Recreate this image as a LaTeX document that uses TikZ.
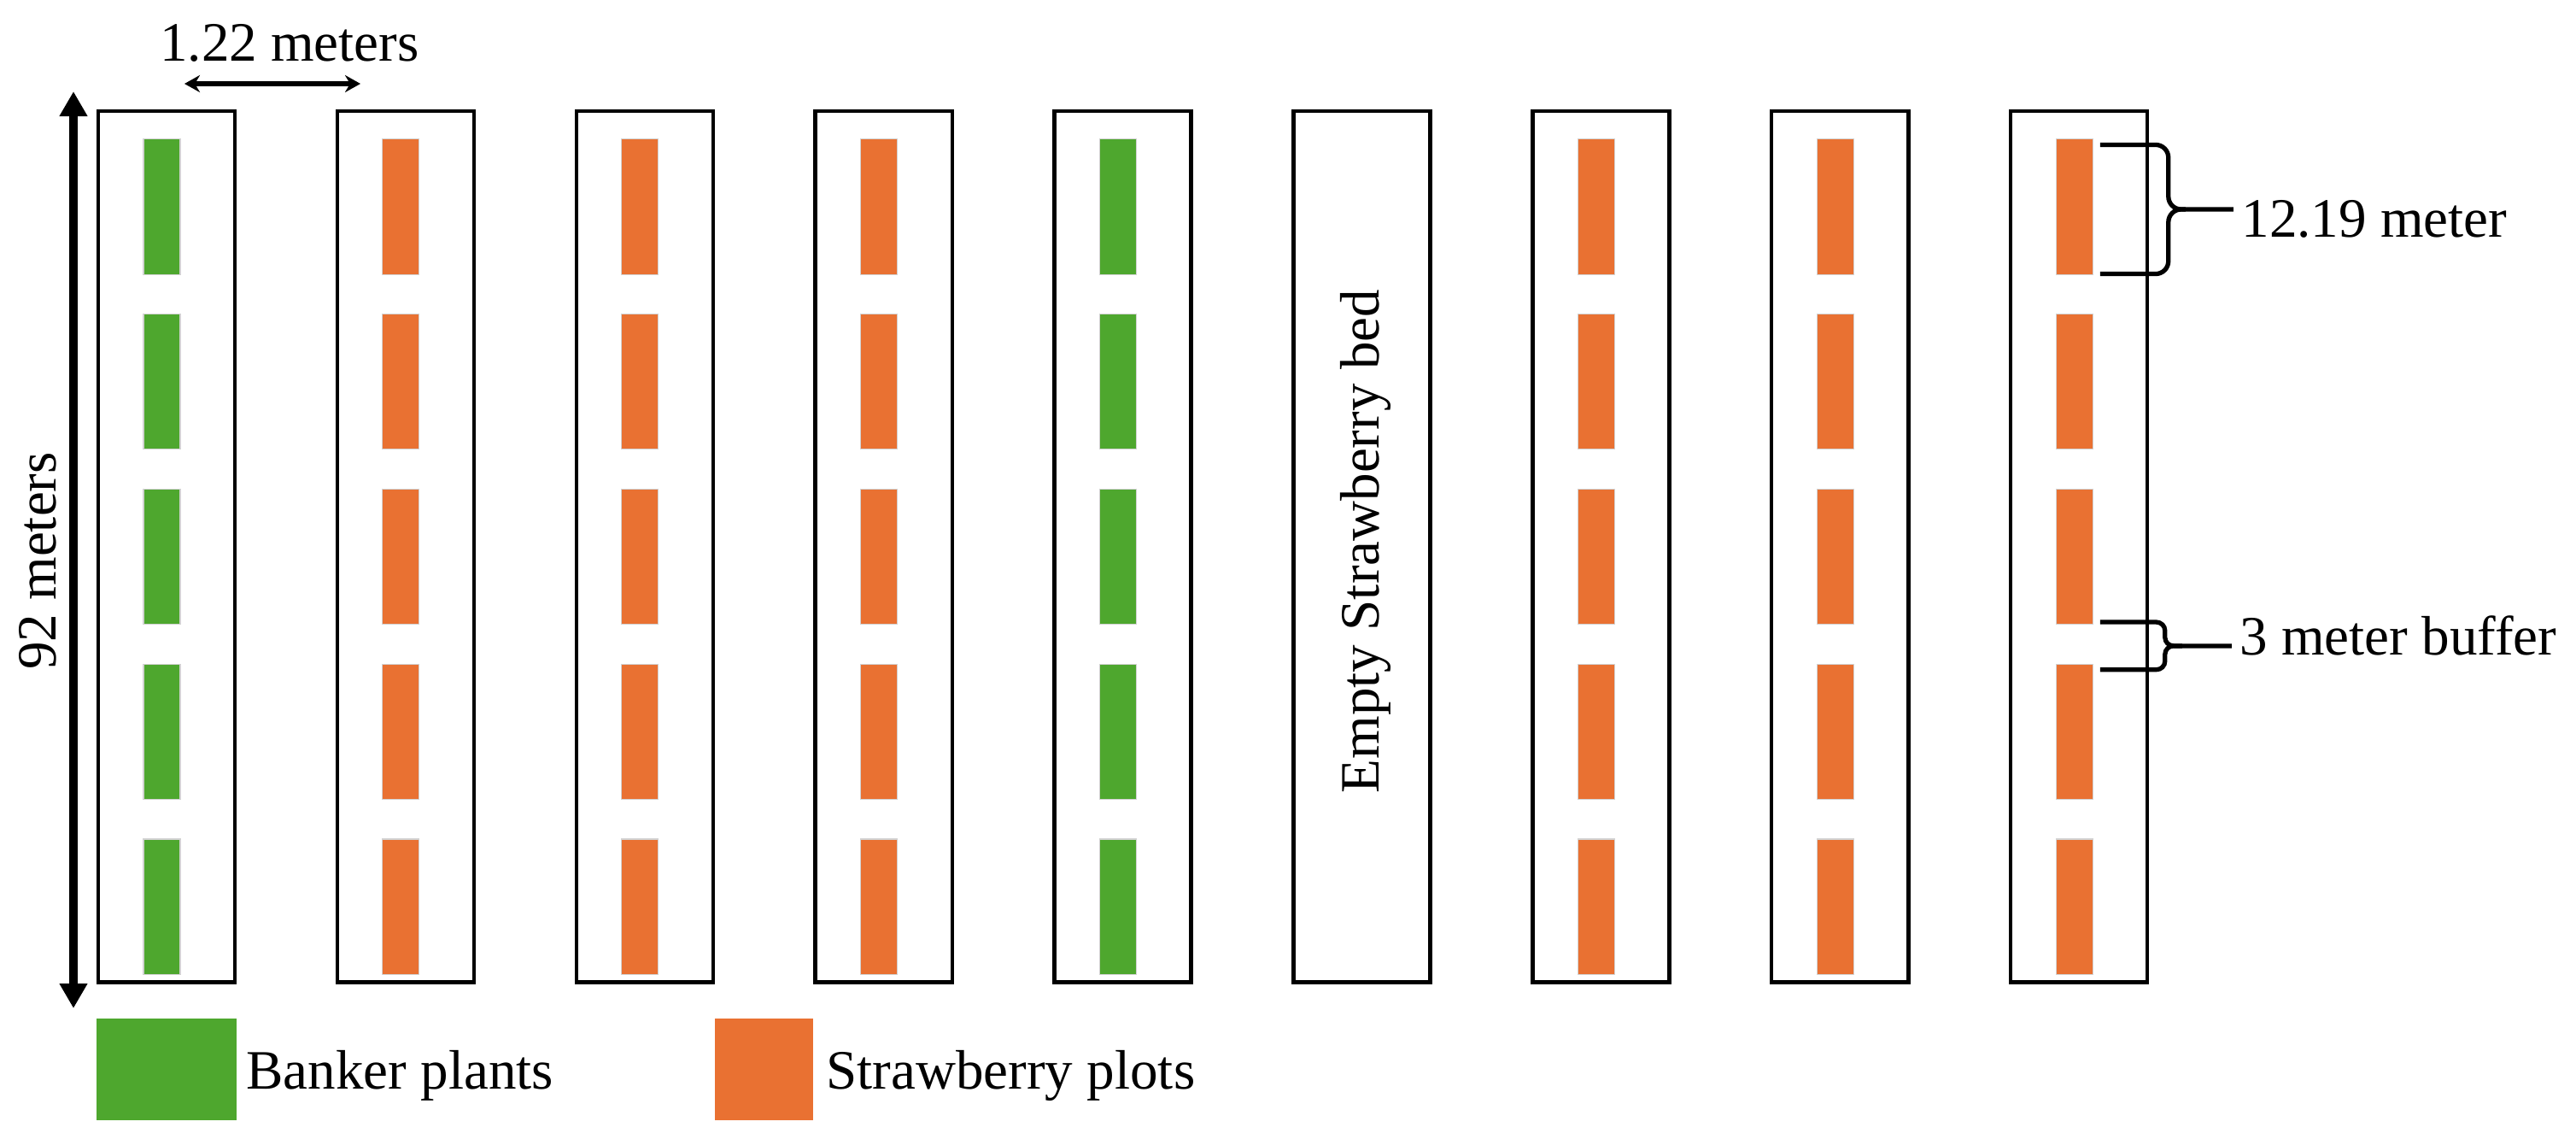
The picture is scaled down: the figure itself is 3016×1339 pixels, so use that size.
\documentclass[tikz,border=0pt]{standalone}
\usepackage{fontspec}
\setmainfont{Liberation Serif}
\usepackage{tikz}
\usetikzlibrary{arrows.meta}
\usetikzlibrary{calc}
\usetikzlibrary{positioning}
\definecolor{bankergreen}{RGB}{78,167,46}
\definecolor{berryorange}{RGB}{233,113,50}
\newcommand{\drawbrace}[1][0.15cm]{\draw[line width=1.5pt, rounded corners=#1]}

\begin{document}
\begin{tikzpicture}[x=0.01cm, y=-0.01cm,
    bedbox/.style={draw, line width=1.25pt, minimum width=1.6cm, minimum height=10.19cm, inner sep=0pt},
    plotbox/.style={draw=gray!35, line width=0.3pt, minimum width=0.43cm, minimum height=1.58cm, inner sep=0pt},
    keybox/.style={minimum height=1.19cm, inner sep=0pt},
    annot/.style={font=\rmfamily\fontsize{18.5}{22}\selectfont, inner sep=0pt}]
    \useasboundingbox (0,0) rectangle (3016,1339);
    \fill[white] (0,0) rectangle (3016,1339);

    % Draw beds
    \foreach \i in {1,...,9} {
        \node[bedbox] (bed\i) at ({195+279.9*(\i-1)}, 639.5) {};
    }

    % Draw plots
    \foreach \i/\kind in {1/bankergreen,2/berryorange,3/berryorange,4/berryorange,5/bankergreen,7/berryorange,8/berryorange,9/berryorange} {
        \foreach \j in {1,...,5} {
            \node[plotbox, fill=\kind] (p-\i-\j) at ([shift={(-5.5,{-397.5+204.75*(\j-1)})}]bed\i.center) {};
        }
    }

    \node[annot, rotate=90, anchor=base] (emptytxt) at ([shift={(20,-6)}]bed6.center) {Empty Strawberry bed};

    % Draw dimensions
    \coordinate (w1) at (216,98);
    \coordinate (w2) at (422,98);
    \draw[line width=1.5pt, {Stealth[length=0.18cm, width=0.2cm]}-{Stealth[length=0.18cm, width=0.2cm]}] (w1) -- (w2);
    \node[annot, anchor=base] (bedgap) at ($(w1)!0.5!(w2)+(20,-27)$) {1.22 meters};

    \coordinate (top92) at (86,107);
    \coordinate (bot92) at (86,1180);
    \draw[line width=2.6pt, {Triangle[length=0.29cm, width=0.31cm]}-{Triangle[length=0.29cm, width=0.31cm]}] (top92) -- (bot92);
    \node[annot, rotate=90, anchor=base] (fieldlen) at ($(top92)!0.5!(bot92)+(-21,13)$) {92 meters};

    % Draw braces
    \coordinate (b1top) at ([shift={(8,7)}]p-9-1.north east);
    \coordinate (b1bot) at ([shift={(8,-1)}]p-9-1.south east);
    \coordinate (b1cusp) at ($(b1top)!0.5!(b1bot)+(80,0)$);
    \node[annot, anchor=base west, inner xsep=0.09cm] (plotlen) at ($(b1cusp)+(76,32)$) {12.19 meter};
    \drawbrace (b1top) -| (b1cusp) -- (b1cusp -| plotlen.west);
    \drawbrace (b1bot) -| (b1cusp) -- ++(20,0);

    \coordinate (b2top) at ([shift={(8,-3)}]p-9-3.south east);
    \coordinate (b2bot) at ([shift={(8,7)}]p-9-4.north east);
    \coordinate (b2cusp) at ($(b2top)!0.5!(b2bot)+(76,0)$);
    \node[annot, anchor=base west, inner xsep=0.09cm] (gaplen) at ($(b2cusp)+(78,11)$) {3 meter buffer};
    \drawbrace[0.1cm] (b2top) -| (b2cusp) -- (b2cusp -| gaplen.west);
    \drawbrace[0.1cm] (b2bot) -| (b2cusp) -- ++(20,0);

    % Legend
    \node[keybox, fill=bankergreen, minimum width=1.64cm] (keyA) at (195,1251.5) {};
    \node[annot, anchor=base west] (keyAtxt) at ([shift={(10,23)}]keyA.east) {Banker plants};
    \node[keybox, fill=berryorange, minimum width=1.15cm] (keyB) at (894.5,1251.5) {};
    \node[annot, anchor=base west] (keyBtxt) at ([shift={(14,23)}]keyB.east) {Strawberry plots};
\end{tikzpicture}
\end{document}
